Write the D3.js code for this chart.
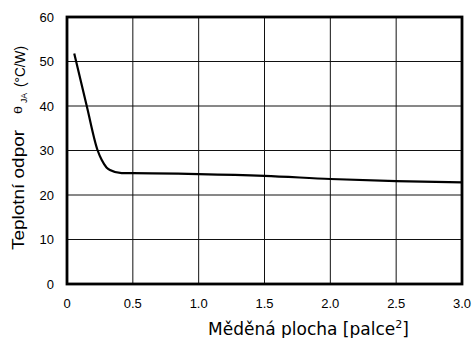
<html>
<head>
<meta charset="utf-8">
<title>Teplotní odpor</title>
<script src="https://cdn.jsdelivr.net/npm/d3@7"></script>
<style>
  body { margin: 0; background: #fff; }
  text { fill: #000; }
</style>
</head>
<body>
<svg id="chart" width="473" height="338"></svg>

<script type="text/javascript">
  // values
  var areaX = [0.055, 0.15, 0.233, 0.263, 0.3, 0.326, 0.415, 0.5, 1.0, 1.5, 2.0, 2.5, 3.0];
  var thetaJA = [51.8, 40, 30, 27.9, 26.2, 25.6, 24.9, 24.9, 24.7, 24.3, 23.6, 23.1, 22.85];
  var xTicks = [0, 0.5, 1.0, 1.5, 2.0, 2.5, 3.0];
  var yTicks = [0, 10, 20, 30, 40, 50, 60];

  var svg = d3.select("#chart"),
      pLeft = 67, pRight = 462, pTop = 17, pBottom = 284;

  var x = d3.scaleLinear().domain([0, 3]).range([pLeft, pRight]);
  var y = d3.scaleLinear().domain([0, 60]).range([pBottom, pTop]);

  // grid
  svg.append("g")
    .selectAll("line")
    .data(xTicks.slice(1, -1))
    .enter().append("line")
      .attr("x1", function(d) { return x(d); })
      .attr("x2", function(d) { return x(d); })
      .attr("y1", pTop).attr("y2", pBottom)
      .attr("stroke", "#111").attr("stroke-width", 1);

  svg.append("g")
    .selectAll("line")
    .data(yTicks.slice(1, -1))
    .enter().append("line")
      .attr("y1", function(d) { return y(d); })
      .attr("y2", function(d) { return y(d); })
      .attr("x1", pLeft).attr("x2", pRight)
      .attr("stroke", "#111").attr("stroke-width", 1);

  // curve
  var line = d3.line()
      .curve(d3.curveMonotoneX)
      .x(function(d, i) { return x(areaX[i]); })
      .y(function(d) { return y(d); });

  svg.append("path")
      .attr("d", line(thetaJA))
      .attr("fill", "none")
      .attr("stroke", "#000")
      .attr("stroke-width", 2.2)
      .attr("stroke-linejoin", "round");

  // frame
  svg.append("rect")
      .attr("x", pLeft).attr("y", pTop)
      .attr("width", pRight - pLeft).attr("height", pBottom - pTop)
      .attr("fill", "none").attr("stroke", "#000").attr("stroke-width", 2.8);

  // tick labels
  svg.append("g")
      .attr("font-family", "'Liberation Sans', Arial, sans-serif")
      .attr("font-size", 13)
    .selectAll("text")
    .data(yTicks)
    .enter().append("text")
      .attr("x", 54)
      .attr("y", function(d) { return y(d); })
      .attr("dy", "0.35em")
      .attr("text-anchor", "end")
      .text(function(d) { return d; });

  svg.append("g")
      .attr("font-family", "'Liberation Sans', Arial, sans-serif")
      .attr("font-size", 13)
    .selectAll("text")
    .data(xTicks)
    .enter().append("text")
      .attr("x", function(d) { return x(d); })
      .attr("y", 308)
      .attr("text-anchor", "middle")
      .text(function(d) { return d === 0 ? "0" : d3.format(".1f")(d); });

  // x title
  var xt = svg.append("text")
      .attr("x", 208).attr("y", 335)
      .attr("font-family", "'DejaVu Sans', Verdana, sans-serif")
      .attr("font-size", 17)
      .text("Měděná plocha [palce");
  xt.append("tspan").attr("font-size", 11).attr("dy", -7).text("2");
  xt.append("tspan").attr("dy", 7).text("]");

  // y title, in pieces as in the original
  var yParts = [
    { t: "Teplotní odpor", bx: 24, sy: 250, len: 120, fs: 16 },
    { t: "θ", bx: 22, sy: 114, len: 8, fs: 11 },
    { t: "JA", bx: 27, sy: 103, len: 10, fs: 8.5 },
    { t: "(°C/W)", bx: 25, sy: 87, len: 41, fs: 15 }
  ];
  svg.append("g")
      .attr("font-family", "'Liberation Sans', Arial, sans-serif")
    .selectAll("text")
    .data(yParts)
    .enter().append("text")
      .attr("transform", function(d) { return "translate(" + d.bx + "," + d.sy + ") rotate(-90)"; })
      .attr("font-size", function(d) { return d.fs; })
      .attr("textLength", function(d) { return d.len; })
      .attr("lengthAdjust", "spacingAndGlyphs")
      .text(function(d) { return d.t; });
</script>
</body>
</html>
